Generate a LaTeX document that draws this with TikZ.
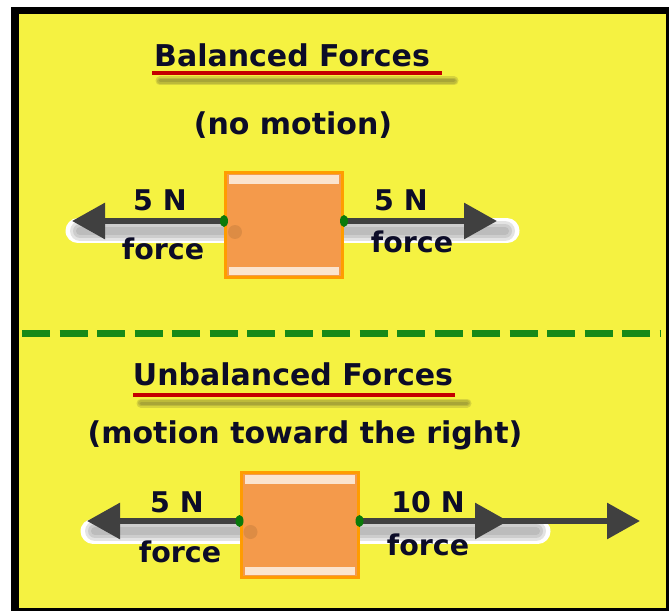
\documentclass[tikz,border=0pt]{standalone}
\usepackage{fontspec}
\setmainfont{DejaVu Sans}
\usetikzlibrary{arrows.meta,positioning}
\definecolor{bgyellow}{HTML}{F5F241}
\definecolor{boxorange}{HTML}{F49A4B}
\definecolor{rimorange}{HTML}{FF9C00}
\definecolor{stripe}{HTML}{FBE4CE}
\definecolor{shaft}{HTML}{404040}
\definecolor{dashgreen}{HTML}{178A17}
\definecolor{dotgreen}{HTML}{0A7A0A}
\definecolor{ulred}{HTML}{C40000}
\definecolor{ink}{HTML}{0C0C28}

\begin{document}
\begin{tikzpicture}[x=1pt,y=-1pt,
          title/.style={font=\fontsize{30}{30}\selectfont\bfseries,text=ink,anchor=base,inner sep=0pt},
          lbl/.style={font=\fontsize{28.5}{28.5}\selectfont\bfseries,text=ink,anchor=base,inner sep=0pt},
          block/.style={
            draw=rimorange,
            line width=3pt,
            fill=boxorange,
            inner sep=0pt,
            minimum width=117pt,
            minimum height=105pt
          },
          force/.style={-{Triangle[length=33pt,width=35pt]},line width=6pt,draw=shaft},
          halo/.style={line width=25pt,draw=white,line cap=round},
          shade/.style={line width=#1,draw=gray,line cap=round,opacity=0.22},
          uline/.style={line width=4pt,draw=ulred},
          ushade/.style={line width=#1,draw=black!60!olive,opacity=0.18,line cap=round}
        ]
        % frame
        \useasboundingbox (0,0) rectangle (669,612);
        \fill[white] (0,0) rectangle (669,612);
        \fill[black] (11,7) rectangle (669,611);
        \fill[bgyellow] (19,14) rectangle (666,608);

        % balanced forces
        \node[title] (balT) at (292,67) {Balanced Forces};
        \coordinate (balU1) at (152,73);
        \coordinate (balU2) at (442,73);
        \foreach \w in {9,6,3}
          \draw[ushade=\w pt] ([shift={(8,8)}]balU1) -- ([shift={(12,8)}]balU2);
        \draw[uline] (balU1) -- (balU2);
        \node[title] (balS) at (293,135) {(no motion)};

        \node[block] (blockA) at (284,225) {};
        \coordinate (aL) at ([yshift=4pt]blockA.west);
        \coordinate (aR) at ([yshift=4pt]blockA.east);
        \coordinate (aLtip) at (72,221);
        \coordinate (aRtip) at (497,221);
        \draw[halo] ([shift={(6,10)}]aLtip) -- ([shift={(0,10)}]aL);
        \draw[halo] ([shift={(0,10)}]aR) -- ([shift={(10,10)}]aRtip);
        \foreach \w in {20,14,8} {
          \draw[shade=\w pt] ([shift={(8,10)}]aLtip) -- ([shift={(0,10)}]aL);
          \draw[shade=\w pt] ([shift={(0,10)}]aR) -- ([shift={(8,10)}]aRtip);
        }
        \draw[force] (aL) -- (aLtip);
        \draw[force] (aR) -- (aRtip);
        \node[block] at (blockA) {};
        \fill[stripe] ([shift={(5,4)}]blockA.north west) rectangle ([shift={(-5,13)}]blockA.north east);
        \fill[stripe] ([shift={(5,-12)}]blockA.south west) rectangle ([shift={(-5,-4)}]blockA.south east);
        \fill[black,opacity=0.09] ([shift={(11,11)}]aL) circle (7);
        \fill[dotgreen] (aL) ellipse (4 and 6);
        \fill[dotgreen] (aR) ellipse (4 and 6);
        \node[lbl] (aLn) at (160,211) {5 N};
        \node[lbl] (aLf) at (163,260) {force};
        \node[lbl] (aRn) at (401,211) {5 N};
        \node[lbl] (aRf) at (412,253) {force};

        % divider
        \coordinate (divL) at (22,333);
        \coordinate (divR) at (660,333);
        \draw[dashgreen,line width=7pt,dash pattern=on 28pt off 9.5pt] (divL) -- (divR);

        % unbalanced forces
        \node[title] (unbT) at (293,385) {Unbalanced Forces};
        \coordinate (unbU1) at (133,395);
        \coordinate (unbU2) at (455,395);
        \foreach \w in {9,6,3}
          \draw[ushade=\w pt] ([shift={(8,8)}]unbU1) -- ([shift={(12,8)}]unbU2);
        \draw[uline] (unbU1) -- (unbU2);
        \node[title] (unbS) at (305,443) {(motion toward the right)};

        \node[block] (blockB) at (299.5,525) {};
        \coordinate (bL) at ([yshift=4pt]blockB.west);
        \coordinate (bR) at ([yshift=4pt]blockB.east);
        \coordinate (bLtip) at (87,521);
        \coordinate (bRtip) at (508,521);
        \coordinate (bRend) at (640,521);
        \draw[halo] ([shift={(6,10)}]bLtip) -- ([shift={(0,10)}]bL);
        \draw[halo] ([shift={(0,10)}]bR) -- ([shift={(30,10)}]bRtip);
        \foreach \w in {20,14,8} {
          \draw[shade=\w pt] ([shift={(8,10)}]bLtip) -- ([shift={(0,10)}]bL);
          \draw[shade=\w pt] ([shift={(0,10)}]bR) -- ([shift={(28,10)}]bRtip);
        }
        \draw[force] (bL) -- (bLtip);
        \draw[force] (bR) -- (bRend);
        \draw[force] (bR) -- (bRtip);
        \node[block] at (blockB) {};
        \fill[stripe] ([shift={(5,4)}]blockB.north west) rectangle ([shift={(-5,13)}]blockB.north east);
        \fill[stripe] ([shift={(5,-12)}]blockB.south west) rectangle ([shift={(-5,-4)}]blockB.south east);
        \fill[black,opacity=0.09] ([shift={(11,11)}]bL) circle (7);
        \fill[dotgreen] (bL) ellipse (4 and 6);
        \fill[dotgreen] (bR) ellipse (4 and 6);
        \node[lbl] (bLn) at (177,512) {5 N};
        \node[lbl] (bLf) at (180,562) {force};
        \node[lbl] (bRn) at (428,512) {10 N};
        \node[lbl] (bRf) at (428,555) {force};
\end{tikzpicture}
\end{document}
